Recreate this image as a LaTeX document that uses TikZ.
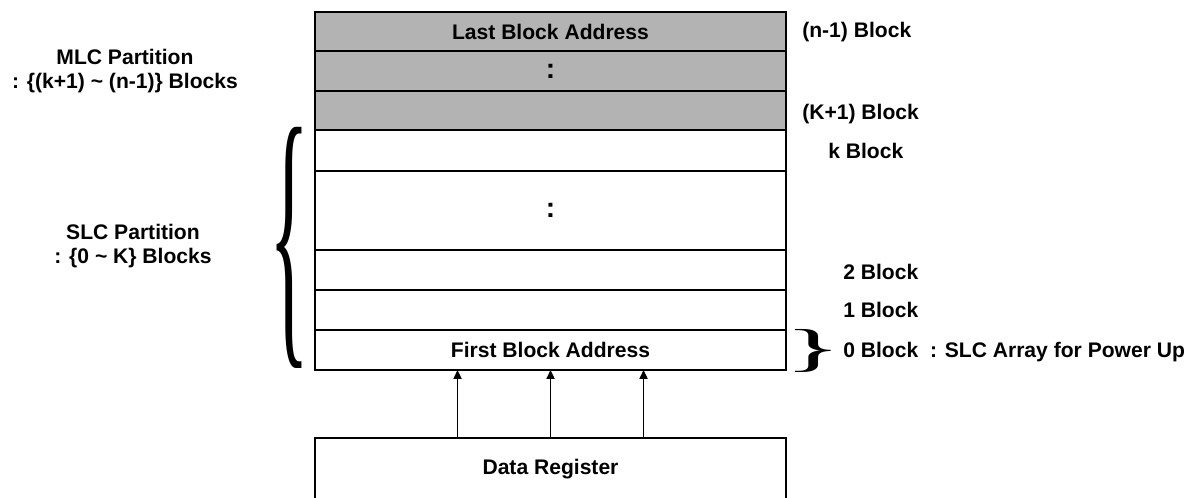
\documentclass[tikz,border=0pt]{standalone}
\usepackage{fontspec}
\setmainfont{Liberation Sans}
\newfontfamily\braceface{Liberation Serif}
\usetikzlibrary{positioning,calc,arrows.meta}
\definecolor{blkgray}{RGB}{179,179,179}

\begin{document}
\begin{tikzpicture}[
        x=0.02cm, y=-0.02cm,
        every node/.style={font=\fontsize{12}{13.5}\selectfont\bfseries},
        row/.style={draw, line width=1.1pt, minimum width=9.42cm, minimum height=0.8cm, inner sep=0pt, outer sep=0pt},
        mlcrow/.style={row, fill=blkgray, minimum height=0.787cm},
        dots/.style={font=\fontsize{16}{16}\selectfont\bfseries},
        lbl/.style={anchor=west, inner sep=0pt},
        part/.style={align=center, inner sep=0pt},
        arr/.style={-{Triangle[length=5pt,width=4.5pt]}, line width=1.1pt},
    ]
    \useasboundingbox (0,0) rectangle (1185,497);
    % MLC rows
    \node[mlcrow] (last) at (550.5,31.7) {Last Block Address};
    \node[mlcrow, dots, below=0pt of last] (mdots) {:};
    \node[mlcrow, below=0pt of mdots] (kp1) {};
    % SLC rows
    \node[row, minimum height=0.82cm, below=0pt of kp1] (rk) {};
    \node[row, dots, minimum height=1.58cm, below=0pt of rk] (sdots) {:};
    \node[row, below=0pt of sdots] (r2) {};
    \node[row, below=0pt of r2] (r1) {};
    \node[row, below=0pt of r1] (first) {First Block Address};
    \draw[line width=1.5pt] (last.north west) rectangle (first.south east);

    \node[row, line width=1.4pt, minimum height=1.26cm, anchor=north] (reg) at (550.5,438) {Data Register};
    \foreach \dx in {-93,0,93}
        \draw[arr] ($(reg.north)+(\dx,0)$) -- ($(first.south)+(\dx,0)$);

    % braces
    \node[inner sep=0pt] (lbrace) at (289,247.5) {\resizebox*{0.8cm}{4.82cm}{\braceface\mdseries\{}};
    \node[inner sep=0pt] (rbrace) at (813,351) {\resizebox*{1.15cm}{0.86cm}{\braceface\mdseries\}}};

    \node[part] (mlc) at (125,71) {MLC Partition\\: \{(k+1) \textasciitilde{} (n-1)\} Blocks};
    \node[part] (slc) at (133,246) {SLC Partition\\: \{0 \textasciitilde{} K\} Blocks};

    \node[lbl] (ln1) at ($(last.east)+(16,0)$) {(n-1) Block};
    \node[lbl] (lk1) at ($(kp1.east)+(16,4)$) {(K+1) Block};
    \node[lbl] (lk) at ($(rk.east)+(42,0)$) {k Block};
    \node[lbl] (l2) at ($(r2.east)+(57,2)$) {2 Block};
    \node[lbl] (l1) at ($(r1.east)+(57,0)$) {1 Block};
    \node[lbl] (l0) at ($(first.east)+(57,2)$) {0 Block~~: SLC Array for Power Up};
\end{tikzpicture}
\end{document}
